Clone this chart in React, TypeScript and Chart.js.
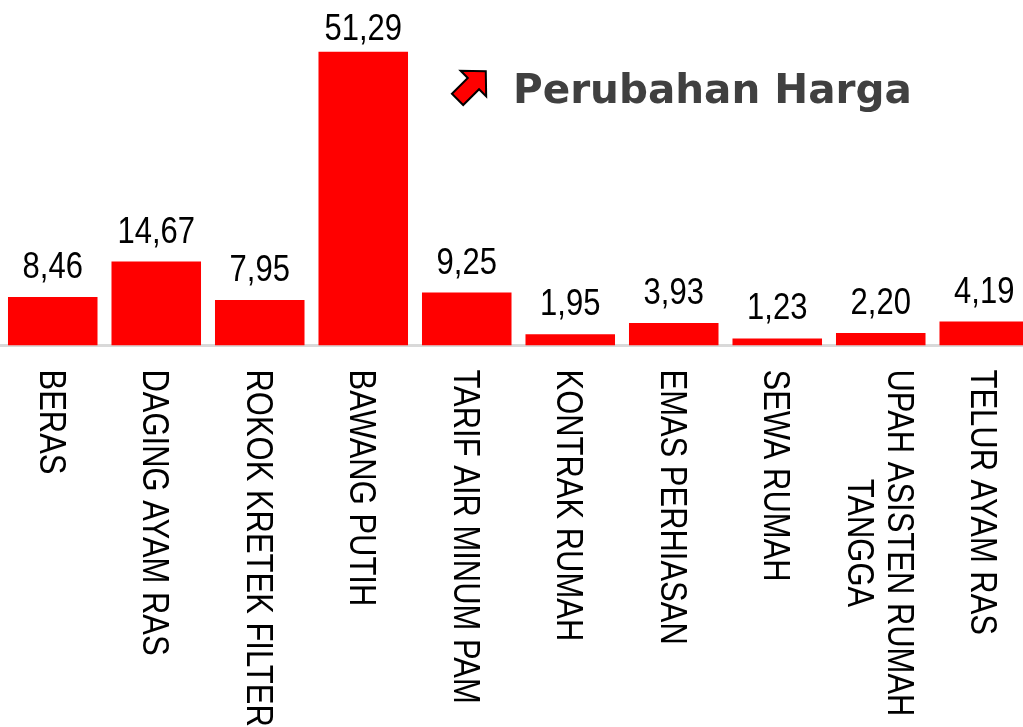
import React, { useEffect, useRef } from "react";
import { Chart, registerables } from "chart.js";

Chart.register(...registerables);

const categories: (string | string[])[] = [
  "BERAS",
  "DAGING AYAM RAS",
  "ROKOK KRETEK FILTER",
  "BAWANG PUTIH",
  "TARIF AIR MINUM PAM",
  "KONTRAK RUMAH",
  "EMAS PERHIASAN",
  "SEWA RUMAH",
  ["UPAH ASISTEN RUMAH", "TANGGA"],
  "TELUR AYAM RAS",
];
const values = [8.46, 14.67, 7.95, 51.29, 9.25, 1.95, 3.93, 1.23, 2.2, 4.19];
const seriesLabel = "Perubahan Harga";

const SANS = '"Liberation Sans", Arial, sans-serif';
const NARROW_SCALE = 0.86;

const customPlugin = {
  id: "customLabels",
  afterDatasetsDraw(chart: any) {
    const ctx: CanvasRenderingContext2D = chart.ctx;
    const area = chart.chartArea;
    const meta = chart.getDatasetMeta(0);
    ctx.save();
    // value labels
    ctx.font = `36px ${SANS}`;
    ctx.fillStyle = "#000";
    ctx.textAlign = "center";
    ctx.textBaseline = "alphabetic";
    meta.data.forEach((bar: any, i: number) => {
      const v = chart.data.datasets[0].data[i] as number;
      const txt = v.toFixed(2).replace(".", ",");
      const y = Math.max(bar.y - 19, 40);
      ctx.save();
      ctx.translate(bar.x, y);
      ctx.scale(NARROW_SCALE, 1);
      ctx.fillText(txt, 0, 0);
      ctx.restore();
    });
    // category labels, rotated clockwise
    const xs = chart.scales.x;
    ctx.font = `36px ${SANS}`;
    ctx.textAlign = "center";
    ctx.textBaseline = "middle";
    const lh = 40;
    const top = area.bottom + 24;
    (chart.data.labels as any[]).forEach((lab, i) => {
      const lines: string[] = Array.isArray(lab) ? lab : [lab];
      const maxW =
        Math.max(...lines.map((l) => ctx.measureText(l).width)) * NARROW_SCALE;
      const x = xs.getPixelForTick(i);
      lines.forEach((line, j) => {
        const off = ((lines.length - 1) / 2 - j) * lh;
        ctx.save();
        ctx.translate(x + off, top + maxW / 2);
        ctx.rotate(Math.PI / 2);
        ctx.scale(NARROW_SCALE, 1);
        ctx.fillText(line, 0, 3);
        ctx.restore();
      });
    });
    // legend icon (block arrow pointing up-right)
    ctx.save();
    ctx.translate(area.left + 470, 86);
    ctx.rotate(Math.PI / 4);
    const s = 19;
    ctx.beginPath();
    ctx.moveTo(0, -1.1 * s);
    ctx.lineTo(0.95 * s, -0.18 * s);
    ctx.lineTo(0.42 * s, -0.18 * s);
    ctx.lineTo(0.42 * s, 1.0 * s);
    ctx.lineTo(-0.42 * s, 1.0 * s);
    ctx.lineTo(-0.42 * s, -0.18 * s);
    ctx.lineTo(-0.95 * s, -0.18 * s);
    ctx.closePath();
    ctx.fillStyle = "#ff0000";
    ctx.fill();
    ctx.lineWidth = 2;
    ctx.lineJoin = "miter";
    ctx.strokeStyle = "#000";
    ctx.stroke();
    ctx.restore();
    // legend text
    ctx.font = 'bold 40.5px "DejaVu Sans", Verdana, sans-serif';
    ctx.fillStyle = "#404040";
    ctx.textAlign = "left";
    ctx.textBaseline = "alphabetic";
    ctx.fillText(chart.data.datasets[0].label, area.left + 512, 103);
    ctx.restore();
  },
};

export default function App() {
  const ref = useRef<HTMLCanvasElement | null>(null);
  useEffect(() => {
    if (!ref.current) return;
    const chart = new Chart(ref.current, {
      type: "bar",
      data: {
        labels: categories,
        datasets: [
          {
            label: seriesLabel,
            data: values,
            backgroundColor: "#ff0000",
            borderWidth: 0,
            barPercentage: 0.865,
            categoryPercentage: 1,
          },
        ],
      },
      options: {
        animation: false,
        responsive: true,
        maintainAspectRatio: false,
        layout: { padding: { left: 1, right: 0, top: 2, bottom: 381.5 } },
        plugins: {
          legend: { display: false },
          tooltip: { enabled: false },
        },
        scales: {
          x: {
            display: true,
            grid: { display: false, drawTicks: false },
            ticks: { display: false },
            border: { display: true, color: "#d9d9d9", width: 3 },
          },
          y: {
            display: false,
            min: 0,
            max: 60,
          },
        },
      },
      plugins: [customPlugin],
    });
    return () => chart.destroy();
  }, []);
  return (
    <div
      style={{
        position: "fixed",
        left: 0,
        top: 0,
        width: 1023,
        height: 727,
        overflow: "hidden",
        background: "#fff",
      }}
    >
      <div style={{ position: "relative", width: 1036, height: 727 }}>
        <canvas ref={ref} />
      </div>
    </div>
  );
}
